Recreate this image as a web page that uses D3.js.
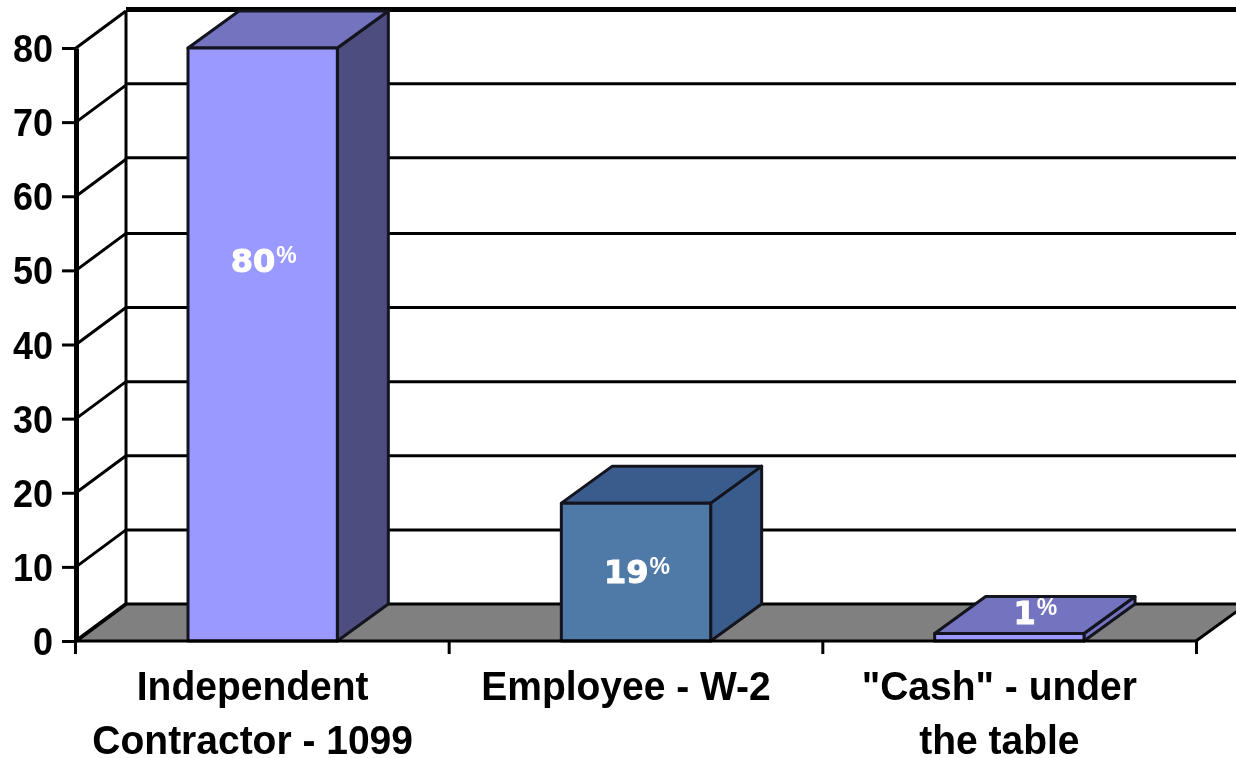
<!DOCTYPE html>
<html>
<head>
<meta charset="utf-8">
<script src="https://cdn.jsdelivr.net/npm/d3@7"></script>
<style>
  html, body { margin: 0; padding: 0; background: #fff; overflow: hidden; }
  svg { display: block; filter: blur(0.7px); }
  text { font-family: "Liberation Sans", Arial, sans-serif; }
</style>
</head>
<body>
<div id="chart"></div>
<script>
const categories = ["Independent Contractor - 1099", "Employee - W-2", "\"Cash\" - under the table"];
const categoryLines = [["Independent", "Contractor - 1099"], ["Employee - W-2"], ["\"Cash\" - under", "the table"]];
const values = [80, 18.6, 1];
const valueLabels = ["80", "19", "1"];
const yTicks = [0, 10, 20, 30, 40, 50, 60, 70, 80];

const frontColors = ["#9999ff", "#4f7aa8", "#9999ff"];
const topColors = ["#7373bf", "#3a5c8c", "#7373bf"];
const sideColors = ["#4d4d80", "#3a5c8c", "#7373bf"];

const width = 1236,
  height = 758;

const depthX = 51,
  depthY = 37;

const svg = d3.select("#chart")
  .append("svg")
  .attr("width", width)
  .attr("height", height);

// Scales
const y = d3.scaleLinear().domain([0, 80]).range([641, 48]);
const x = d3.scaleBand()
  .domain(categories)
  .range([76, 1196])
  .paddingInner(0.6)
  .paddingOuter(0.3);
const xEdges = d3.scaleLinear().domain([0, 3]).range([75, 1196]);

const poly = pts => pts.map(p => p.join(",")).join(" ");

// Floor
svg.append("polygon")
  .attr("points", poly([
    [x.range()[0], y(0)],
    [x.range()[0] + depthX - 1, y(0) - depthY],
    [x.range()[1] + depthX, y(0) - depthY],
    [x.range()[1], y(0)]
  ]))
  .attr("fill", "#808080");

// Back wall gridlines
svg.selectAll(".grid")
  .data(yTicks)
  .enter()
  .append("line")
  .attr("class", "grid")
  .attr("x1", x.range()[0] + depthX - 1)
  .attr("x2", width + 20)
  .attr("y1", d => y(d) - depthY - (d >= 60 ? 1.5 : 0))
  .attr("y2", d => y(d) - depthY - (d >= 60 ? 1.5 : 0))
  .attr("stroke", "#000")
  .attr("stroke-width", d => d === 80 ? 5 : 3);

// Side wall lines
svg.selectAll(".side")
  .data(yTicks)
  .enter()
  .append("line")
  .attr("class", "side")
  .attr("x1", x.range()[0])
  .attr("x2", x.range()[0] + depthX - 1)
  .attr("y1", d => y(d))
  .attr("y2", d => y(d) - depthY)
  .attr("stroke", "#000")
  .attr("stroke-width", d => d === 0 ? 4 : 3);

svg.append("line")
  .attr("x1", x.range()[0] + depthX - 1)
  .attr("x2", x.range()[0] + depthX - 1)
  .attr("y1", y(80) - depthY)
  .attr("y2", y(0) - depthY)
  .attr("stroke", "#000")
  .attr("stroke-width", 3);

// Right edge of the floor
svg.append("line")
  .attr("x1", x.range()[1])
  .attr("x2", x.range()[1] + depthX)
  .attr("y1", y(0))
  .attr("y2", y(0) - depthY)
  .attr("stroke", "#000")
  .attr("stroke-width", 3);

// Bars
const bars = svg.selectAll(".bar")
  .data(categories)
  .enter()
  .append("g")
  .attr("class", "bar")
  .attr("stroke", "#14141e")
  .attr("stroke-width", 3)
  .attr("stroke-linejoin", "round");

bars.append("polygon")
  .attr("fill", (d, i) => sideColors[i])
  .attr("points", (d, i) => {
    const r = x(d) + x.bandwidth(), t = y(values[i]), b = y(0);
    return poly([[r, b], [r, t], [r + depthX, t - depthY], [r + depthX, b - depthY]]);
  });

bars.append("polygon")
  .attr("fill", (d, i) => topColors[i])
  .attr("points", (d, i) => {
    const l = x(d), r = l + x.bandwidth(), t = y(values[i]);
    return poly([[l, t], [r, t], [r + depthX, t - depthY], [l + depthX, t - depthY]]);
  });

bars.append("rect")
  .attr("fill", (d, i) => frontColors[i])
  .attr("x", d => x(d))
  .attr("y", (d, i) => y(values[i]))
  .attr("width", x.bandwidth())
  .attr("height", (d, i) => y(0) - y(values[i]));

// Floor front edge
svg.append("line")
  .attr("x1", x.range()[0])
  .attr("x2", x.range()[1])
  .attr("y1", y(0))
  .attr("y2", y(0))
  .attr("stroke", "#000")
  .attr("stroke-width", 3);

// Value labels, placed by hand in the original
const labelDx = [1, 1, 26];
const labelDy = [224, 80, -10];
const labels = svg.selectAll(".value")
  .data(valueLabels)
  .enter()
  .append("text")
  .attr("class", "value")
  .attr("x", (d, i) => x(categories[i]) + x.bandwidth() / 2 + labelDx[i])
  .attr("y", (d, i) => y(values[i]) + labelDy[i])
  .attr("text-anchor", "middle")
  .attr("fill", "#fff");

labels.append("tspan")
  .attr("font-family", "'DejaVu Sans'")
  .attr("font-weight", "bold")
  .attr("font-size", 32)
  .attr("stroke", "#fff")
  .attr("stroke-width", 1)
  .text(d => d);

labels.append("tspan")
  .attr("font-family", "'Liberation Sans'")
  .attr("font-weight", "bold")
  .attr("font-size", 23)
  .attr("dx", 1)
  .attr("dy", -9)
  .text("%");

// Y axis
const yAxis = svg.append("g")
  .attr("transform", `translate(${x.range()[0]},0)`)
  .call(d3.axisLeft(y).tickValues(yTicks).tickSize(14).tickPadding(9).tickSizeOuter(0));
yAxis.select(".domain").attr("stroke", "#000").attr("stroke-width", 5);
yAxis.selectAll(".tick line").attr("stroke", "#000").attr("stroke-width", 3);
yAxis.selectAll(".tick text")
  .attr("fill", "#000")
  .attr("font-family", "'Liberation Sans'")
  .attr("font-weight", "bold")
  .attr("font-size", 36)
  .attr("dy", "0.35em")
  .attr("transform", "scale(1,1.08)");

// X axis ticks
const xAxis = svg.append("g")
  .attr("transform", `translate(0,${y(0)})`)
  .call(d3.axisBottom(xEdges).tickValues([0, 1, 2, 3]).tickSize(13).tickFormat("").tickSizeOuter(0));
xAxis.select(".domain").remove();
xAxis.selectAll(".tick line").attr("stroke", "#000").attr("stroke-width", 3);

// Category labels, slightly stretched like the source image
const catStretch = 1.05;
const catText = svg.selectAll(".cat")
  .data(categoryLines)
  .enter()
  .append("text")
  .attr("class", "cat")
  .attr("text-anchor", "middle")
  .attr("fill", "#000")
  .attr("font-weight", "bold")
  .attr("font-size", 39)
  .attr("transform", `translate(0,700) scale(1,${catStretch})`);

catText.selectAll("tspan")
  .data((d, i) => d.map((line, k) => ({ line, k, i })))
  .enter()
  .append("tspan")
  .attr("x", d => x(categories[d.i]) + x.bandwidth() / 2 - 10)
  .attr("y", d => d.k * 54 / catStretch)
  .text(d => d.line);
</script>
</body>
</html>
